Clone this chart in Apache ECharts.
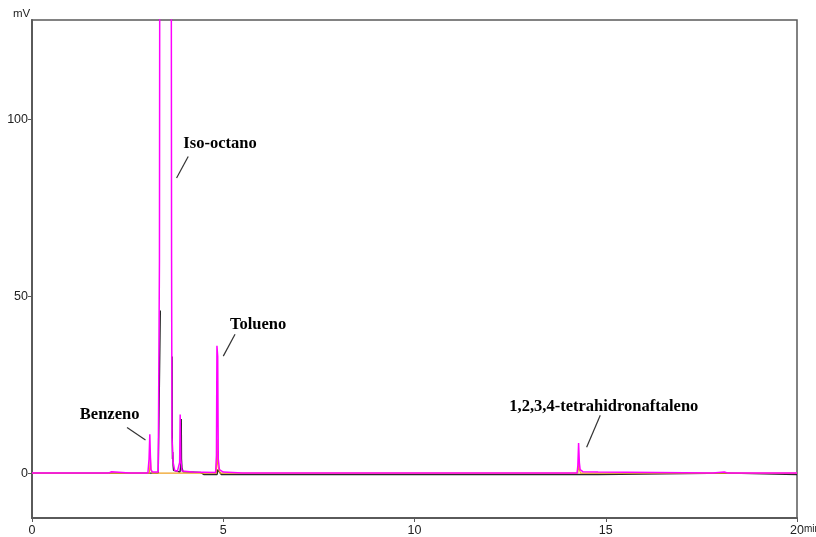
<!DOCTYPE html>
<html><head><meta charset="utf-8">
<script src="https://cdn.jsdelivr.net/npm/echarts@6/dist/echarts.min.js"></script>
<style>html,body{margin:0;padding:0;background:#fff}#c{width:816px;height:537px}</style>
</head><body><div id="c"></div>
<script>
// ---- data ----
const xTicks = [0, 5, 10, 15, 20];
const yTicks = [0, 50, 100];

const magentaTime = [0, 2.00, 2.02, 2.08, 2.10, 2.55, 2.57, 2.60, 3.03, 3.06, 3.08, 3.095, 3.11, 3.15, 3.30, 3.332, 3.345, 3.48, 3.636, 3.649, 3.66, 3.69, 3.73, 3.80, 3.86, 3.874, 3.89, 3.92, 4.20, 4.80, 4.822, 4.835, 4.855, 4.87, 4.90, 5.00, 5.50, 14.25, 14.27, 14.29, 14.31, 14.33, 14.40, 14.80, 14.85, 17.80, 17.85, 18.10, 18.20, 20];
const magentaMv   = [0, 0, 0.5, 0.4, 0, 0, 0.4, 0, 0, 4, 11.0, 5, 1, 0.3, 0.3, 60, 200, 250, 200, 60, 10, 3, 0.8, 0.5, 3, 16.6, 4, 0.6, 0.3, 0.2, 5, 36, 33, 4, 1, 0.3, 0, 0, 2, 8.5, 3, 1, 0.4, 0.3, 0, 0, 0.4, 0.3, 0, 0];

const blackTime = [0, 3.30, 3.352, 3.355, 3.5, 3.663, 3.667, 3.672, 3.68, 3.69, 3.70, 3.74, 3.87, 3.895, 3.902, 3.908, 3.92, 3.95, 4.40, 4.50, 4.84, 4.855, 4.88, 4.95, 14.80, 14.85, 18.25, 18.30, 20];
const blackMv   = [0, 0, 0, 46, null, 33, 12, 4, 6, 2, 0.8, 0.4, 0.3, 3, 15.3, 4, 1.5, 0.4, 0.2, -0.4, -0.4, 1, 0.5, -0.4, -0.4, 0, 0, -0.4, -0.4];

const orangeTime = [0, 3.07, 3.095, 3.11, 3.14, 4.82, 4.838, 4.85, 4.88, 4.92, 14.27, 14.295, 14.31, 14.34, 20];
const orangeMv   = [0, 0, 4.5, 1, 0, 0, 9.5, 3, 1, 0, 0, 3, 1, 0, 0];

const peakNames = ['Benzeno', 'Iso-octano', 'Tolueno', '1,2,3,4-tetrahidronaftaleno'];

// ---- layout (annotation placement in data coordinates) ----
const labelAnchors = [[2.03, 16.6], [4.915, 93.2], [5.91, 42.0], [14.95, 18.8]];
const leaderLines = [
  [[2.485, 12.9], [2.967, 9.4]],
  [[4.084, 89.6], [3.780, 83.5]],
  [[5.308, 39.3], [5.001, 33.1]],
  [[14.857, 16.4], [14.50, 7.3]]
];

function pairs(ts, vs) { return ts.map((t, i) => [t, vs[i]]); }

const chart = echarts.init(document.getElementById('c'), null, {renderer: 'canvas'});
const axisCol = '#5a5a5a';
const lblFont = {color: '#222', fontSize: 12.5, fontFamily: '"Liberation Sans", Arial, sans-serif'};

chart.setOption({
  animation: false,
  backgroundColor: '#fff',
  grid: {left: 32, top: 20, width: 765, height: 499, show: true, borderColor: axisCol, borderWidth: 1.5, containLabel: false},
  xAxis: {
    type: 'value', min: 0, max: 20, interval: 5,
    axisLine: {show: true, onZero: false, lineStyle: {color: axisCol, width: 2}},
    axisTick: {show: true, inside: false, length: 4, lineStyle: {color: axisCol}, customValues: xTicks},
    axisLabel: Object.assign({margin: 6, customValues: xTicks}, lblFont),
    splitLine: {show: false}
  },
  yAxis: {
    type: 'value', min: -12.7, max: 128.2,
    axisLine: {show: true, onZero: false, lineStyle: {color: axisCol, width: 2}},
    axisTick: {show: true, inside: false, length: 4, lineStyle: {color: axisCol}, customValues: yTicks},
    axisLabel: Object.assign({margin: 4, customValues: yTicks}, lblFont),
    splitLine: {show: false}
  },
  series: [
    {type: 'line', data: pairs(blackTime, blackMv), showSymbol: false, symbol: 'none', connectNulls: false,
     lineStyle: {color: '#2a2a2a', width: 1.4}, z: 2, clip: true},
    {type: 'line', data: pairs(orangeTime, orangeMv), showSymbol: false, symbol: 'none',
     lineStyle: {color: '#f0a020', width: 1.2}, z: 3, clip: true},
    {type: 'line', data: pairs(magentaTime, magentaMv), showSymbol: false, symbol: 'none',
     lineStyle: {color: '#ff00ff', width: 1.5}, z: 4, clip: true}
  ]
});

const g = [];
g.push({type: 'text', left: 13, top: 8, style: {text: 'mV', fill: '#222', font: '11.5px "Liberation Sans", Arial, sans-serif'}});
g.push({type: 'text', left: 804, top: 524, style: {text: 'min', fill: '#222', font: '10px "Liberation Sans", Arial, sans-serif'}});
peakNames.forEach((name, i) => {
  const p = chart.convertToPixel({gridIndex: 0}, labelAnchors[i]);
  g.push({type: 'text', x: p[0], y: p[1], style: {text: name, fill: '#000', font: 'bold 16.5px "Liberation Serif", "Times New Roman", serif', align: 'center', verticalAlign: 'middle'}, z: 10});
  const a = chart.convertToPixel({gridIndex: 0}, leaderLines[i][0]);
  const b = chart.convertToPixel({gridIndex: 0}, leaderLines[i][1]);
  g.push({type: 'line', shape: {x1: a[0], y1: a[1], x2: b[0], y2: b[1]}, style: {stroke: '#333', lineWidth: 1.2}, z: 10});
});
chart.setOption({graphic: g});
</script>
</body></html>
